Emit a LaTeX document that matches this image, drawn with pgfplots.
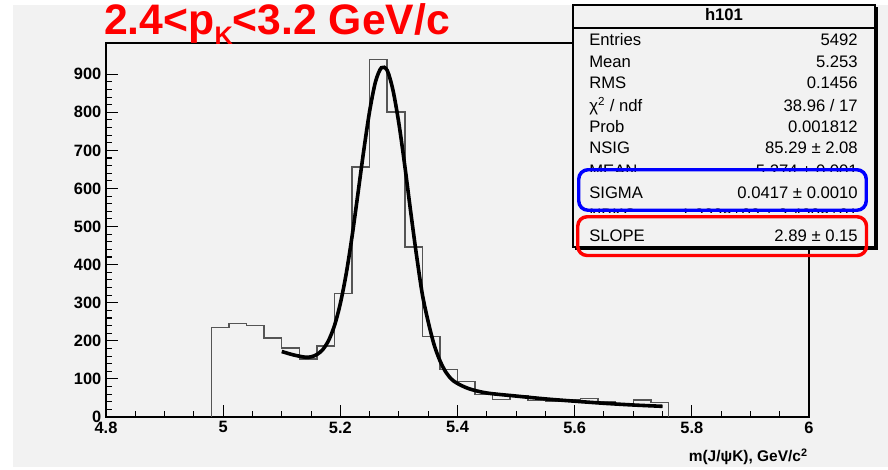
\documentclass[border=0pt]{standalone}
\usepackage{fontspec}
\setmainfont{Liberation Sans}
\usepackage{pgfplots}
\pgfplotsset{compat=1.18}
\definecolor{panel}{HTML}{F2F2F2}
\definecolor{histc}{HTML}{555555}
\definecolor{rootred}{RGB}{255,0,0}
\definecolor{rootblue}{RGB}{0,0,255}
\begin{document}
\begin{tikzpicture}[x=0.75pt,y=0.75pt]
\path[use as bounding box] (0,0) rectangle (888,470);
\fill[white] (0,0) rectangle (888,470);
\fill[panel] (13,3) rectangle (888,465);
\begin{axis}[
  at={(79.5pt,39.75pt)}, anchor=south west,
  scale only axis, width=527.25pt, height=280.5pt,
  xmin=4.8, xmax=6, ymin=0, ymax=982,
  xtick={4.8,5,5.2,5.4,5.6,5.8,6},
  minor x tick num=3,
  ytick={0,100,200,300,400,500,600,700,800,900},
  minor y tick num=4,
  tick pos=left, tick align=inside,
  major tick length=9pt, minor tick length=4.5pt,
  axis line style={black, line width=0.8pt},
  every tick/.style={black, line width=0.8pt},
  tick label style={font=\fontsize{12.3}{14}\selectfont\bfseries},
  /pgf/number format/assume math mode=true,
  axis background/.style={fill=panel},
]
\addplot[const plot, color=histc, line width=1.1pt] coordinates {
(4.98,0) (4.98,235) (5.01,245) (5.04,240) (5.07,207) (5.10,181) (5.13,152)
(5.16,186) (5.19,324) (5.22,657) (5.25,939) (5.28,801) (5.31,446) (5.34,211)
(5.37,125) (5.40,93) (5.43,59) (5.46,46) (5.49,55) (5.52,43) (5.55,40)
(5.58,46) (5.61,49) (5.64,40) (5.67,34) (5.70,45) (5.73,38) (5.76,38) (5.76,0)
};
\addplot[smooth, black, line width=2.7pt] coordinates {
(5.10,172) (5.12,163) (5.14,157) (5.15,158) (5.16,164) (5.17,177) (5.18,201)
(5.19,240) (5.20,298) (5.21,376) (5.22,474) (5.23,586) (5.24,700) (5.25,803)
(5.26,880) (5.27,917) (5.28,910) (5.29,857) (5.30,770) (5.31,660) (5.32,540)
(5.33,425) (5.34,322) (5.35,250) (5.36,190) (5.37,148) (5.38,118) (5.39,99)
(5.40,88) (5.42,74) (5.45,63) (5.50,55) (5.55,47.5) (5.60,41.5) (5.65,36)
(5.70,31.5) (5.75,28)
};
\end{axis}
% title
\node[anchor=base west, inner sep=0, text=rootred, font=\fontsize{32}{36}\selectfont\bfseries]
  at (104,435) {2.4<p\raisebox{-6.8pt}{\fontsize{19}{20}\selectfont K}<3.2 GeV/c};
% x label
\node[anchor=base east, inner sep=0, font=\fontsize{11.6}{13}\selectfont\bfseries]
  at (808,8) {m(J/ψK), GeV/c\textsuperscript{2}};
% stats box
\draw[black, line width=1.6pt] (575,221.5) -- (876.5,221.5) -- (876.5,463);
\draw[black, line width=0.8pt, fill=panel] (573,223) rectangle (875,465);
\draw[black, line width=0.8pt] (573,442) -- (875,442);
\node[anchor=base, inner sep=0, font=\fontsize{12.5}{14}\selectfont\bfseries] at (724,449) {h101};
\begin{scope}[every node/.style={inner sep=0, font=\fontsize{12.5}{14}\selectfont}]
\node[anchor=base west] at (589,424) {Entries};
\node[anchor=base east] at (858,424) {5492};
\node[anchor=base west] at (589,402.5) {Mean};
\node[anchor=base east] at (858,402.5) {5.253};
\node[anchor=base west] at (589,381) {RMS};
\node[anchor=base east] at (858,381) {0.1456};
\node[anchor=base west] at (589,358.5) {χ\textsuperscript{2} / ndf};
\node[anchor=base east] at (858,358.5) {38.96 / 17};
\node[anchor=base west] at (589,337.5) {Prob};
\node[anchor=base east] at (858,337.5) {0.001812};
\node[anchor=base west] at (589,316) {NSIG};
\node[anchor=base east] at (858,316) {85.29 ± 2.08};
\begin{scope}
\clip (573,298) rectangle (875,312);
\node[anchor=base west] at (589,293) {MEAN};
\node[anchor=base east] at (858,293) {5.274 ± 0.001};
\end{scope}
\node[anchor=base west] at (589,271) {SIGMA};
\node[anchor=base east] at (858,271) {0.0417 ± 0.0010};
\begin{scope}
\clip (573,257) rectangle (875,265);
\node[anchor=base west] at (589,249.5) {NBKG};
\node[anchor=base east] at (858,249.5) {1.233e+03 ± 3.429e+01};
\end{scope}
\node[anchor=base west] at (589,228) {SLOPE};
\node[anchor=base east] at (858,228) {2.89 ± 0.15};
\end{scope}
% highlight boxes
\draw[rootblue, line width=2.6pt, rounded corners=7pt] (578.75,259.75) rectangle (866.25,300.25);
\draw[rootred, line width=2.6pt, rounded corners=7pt] (577.75,214.5) rectangle (866.5,253.25);
\end{tikzpicture}
\end{document}
